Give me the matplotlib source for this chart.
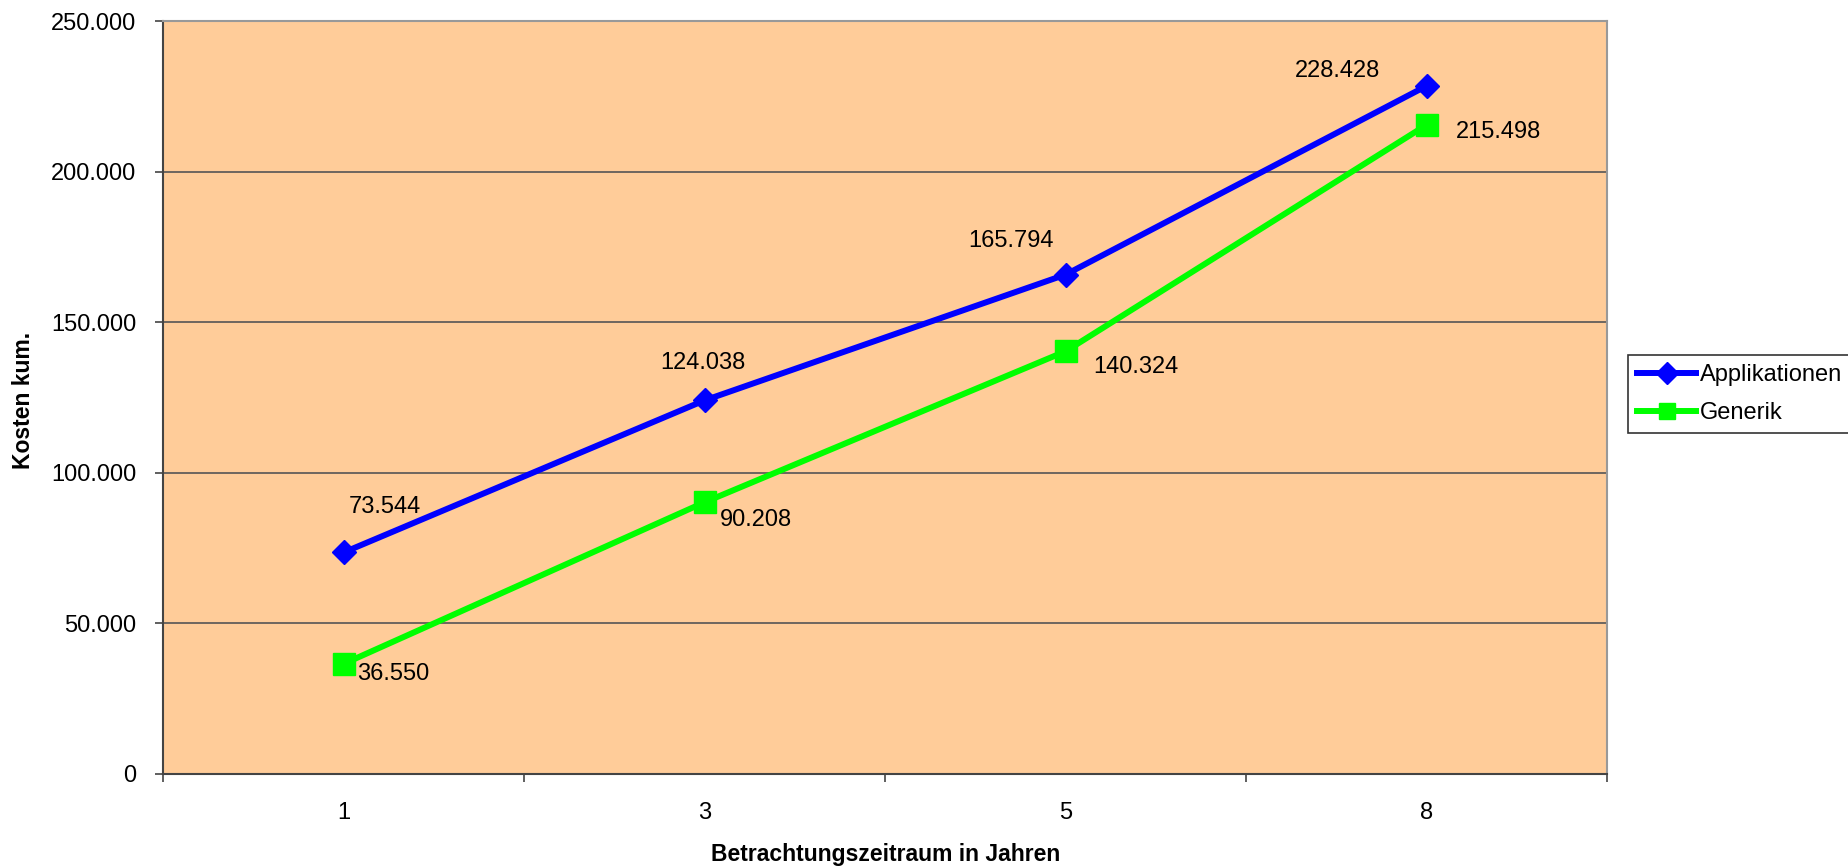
"""Kumulierte Kosten: Applikationen vs. Generik."""
import numpy as np
from matplotlib import pyplot as plt
from matplotlib.ticker import FuncFormatter, FixedLocator

plt.rcParams['font.family'] = ['Liberation Sans', 'DejaVu Sans']

# Data
years = ['1', '3', '5', '8']
applikationen = [73544, 124038, 165794, 228428]
generik = [36550, 90208, 140324, 215498]

# Label offsets in points (hand-placed like the original sheet)
app_offsets = [(30, 33), (-1, 27), (-39, 24), (-64, 11)]
gen_offsets = [(36, -7), (37, -13), (51, -11), (52, -5)]


def thousands(v, _pos):
    return f'{int(v):,}'.replace(',', '.')


fig = plt.figure(figsize=(18.48, 8.67), dpi=100)
ax = fig.add_axes([163 / 1848, 1 - 774 / 867, (1607 - 163) / 1848, (774 - 21) / 867])
ax.set_facecolor('#FFCC99')

x = np.arange(len(years))
ax.plot(x, applikationen, color='#0000FF', lw=4.3, marker='D', ms=12.5,
        label='Applikationen', zorder=3)
ax.plot(x, generik, color='#00FF00', lw=4.3, marker='s', ms=16,
        label='Generik', zorder=3)

for xi, v, off in zip(x, applikationen, app_offsets):
    ax.annotate(thousands(v, None), (xi, v), xytext=off, textcoords='offset points',
                ha='center', va='center', fontsize=17)
for xi, v, off in zip(x, generik, gen_offsets):
    ax.annotate(thousands(v, None), (xi, v), xytext=off, textcoords='offset points',
                ha='center', va='center', fontsize=17)

ax.set_xlim(-0.5, len(years) - 0.5)
ax.set_ylim(0, 250000)
ax.set_yticks(np.arange(0, 250001, 50000))
ax.yaxis.set_major_formatter(FuncFormatter(thousands))
ax.set_xticks(x)
ax.set_xticklabels(years)
ax.xaxis.set_minor_locator(FixedLocator(np.arange(-0.5, len(years), 1.0)))

ax.tick_params(axis='x', which='major', length=0, pad=20, labelsize=17)
ax.tick_params(axis='x', which='minor', length=6, width=1.2, color='#444444')
ax.tick_params(axis='y', length=6, width=1.2, color='#444444', pad=13, labelsize=17)

ax.grid(axis='y', color='#555555', lw=1.2)
ax.set_axisbelow(True)

for side in ['left', 'bottom']:
    ax.spines[side].set_color('#444444')
    ax.spines[side].set_linewidth(1.5)
for side in ['top', 'right']:
    ax.spines[side].set_color('#999999')
    ax.spines[side].set_linewidth(1.5)

ax.set_ylabel('Kosten kum.', fontsize=16.5, fontweight='bold')
ax.set_xlabel('Betrachtungszeitraum in Jahren', fontsize=16.5, fontweight='bold')
ax.yaxis.set_label_coords(24 / 1848, 1 - 400 / 867, transform=fig.transFigure)
ax.xaxis.set_label_coords(886 / 1848, 1 - 855 / 867, transform=fig.transFigure)
ax.yaxis.label.set_va('center')
ax.xaxis.label.set_va('center')

leg = ax.legend(loc='upper left', bbox_to_anchor=(1628 / 1848, 1 - 355 / 867),
                bbox_transform=fig.transFigure, fontsize=17, frameon=True,
                fancybox=False, edgecolor='black', borderpad=0.4,
                handlelength=2.5, handletextpad=0.15, labelspacing=0.65,
                borderaxespad=0)
leg.get_frame().set_linewidth(1.2)
for line in leg.get_lines():
    line.set_markersize(11)

fig.savefig('out.png', dpi=100)
